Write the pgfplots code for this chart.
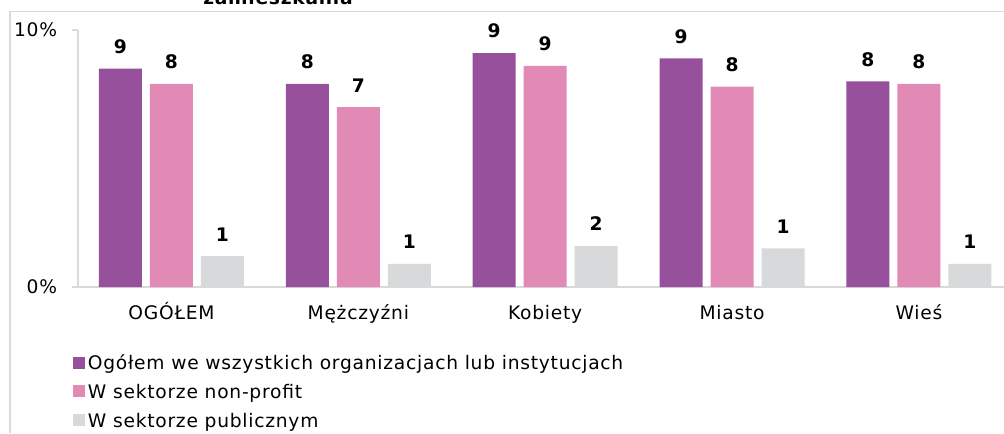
\documentclass[border=0pt]{standalone}
\usepackage{pgfplots}
\pgfplotsset{compat=1.18}
\usepackage{fontspec}
\setmainfont{DejaVu Sans}[LetterSpace=4]
\definecolor{cpur}{RGB}{150,80,156}
\definecolor{cpink}{RGB}{226,138,182}
\definecolor{cgray}{RGB}{216,217,219}
\definecolor{cframe}{RGB}{217,217,217}
\begin{document}
\fontsize{14}{16}\selectfont
\begin{tikzpicture}
\useasboundingbox (0pt,0pt) rectangle (753pt,324.75pt);
\clip (0pt,0pt) rectangle (753pt,324.75pt);
\draw[cframe, line width=1.1pt] (7.5pt,0pt) -- (7.5pt,316.1pt) -- (753pt,316.1pt);
\node[font=\bfseries, anchor=base, inner sep=0pt] at (208.5pt,321.4pt) {zamieszkania};
\begin{axis}[
  at={(58.5pt,109.5pt)}, anchor=south west,
  width=694.5pt, height=192.75pt, scale only axis,
  ybar=6pt, bar width=32.25pt,
  xmin=-0.5, xmax=4.455, ymin=0, ymax=10,
  xtick={0,...,4},
  xticklabels={OGÓŁEM, Mężczyźni, Kobiety, Miasto, Wieś},
  ytick={0,10}, yticklabels={0\%,10\%},
  axis lines=left,
  axis line style={-, draw=cframe, line width=1.1pt},
  tick align=outside, major tick length=4.5pt,
  xtick style={draw=none},
  ytick style={draw=cframe, line width=1pt},
  yticklabel style={inner sep=0pt, xshift=-11pt},
  xticklabel style={inner sep=0pt, anchor=base, yshift=-20pt},
  nodes near coords,
  point meta=explicit symbolic,
  every node near coord/.append style={font=\bfseries, inner sep=0pt, anchor=south, yshift=11pt},
  legend image code/.code={\fill[#1] (0pt,-2.5pt) rectangle (9pt,6.5pt);},
  legend cell align=left,
  legend style={draw=none, fill=none, at={(-0.0054,-0.27)}, anchor=north west,
    inner sep=0pt, row sep=8.6pt, column sep=2pt,
    nodes={inner sep=0pt, text height=10pt, text depth=3pt}},
  clip=false,
]
\addplot[fill=cpur, draw=none] coordinates {(0,8.5)[9] (1,7.9)[8] (2,9.1)[9] (3,8.9)[9] (4,8.0)[8]};
\addplot[fill=cpink, draw=none] coordinates {(0,7.9)[8] (1,7.0)[7] (2,8.6)[9] (3,7.8)[8] (4,7.9)[8]};
\addplot[fill=cgray, draw=none] coordinates {(0,1.2)[1] (1,0.9)[1] (2,1.6)[2] (3,1.5)[1] (4,0.9)[1]};
\legend{Ogółem we wszystkich organizacjach lub instytucjach, W sektorze non-profit, W sektorze publicznym}
\end{axis}
\end{tikzpicture}
\end{document}
